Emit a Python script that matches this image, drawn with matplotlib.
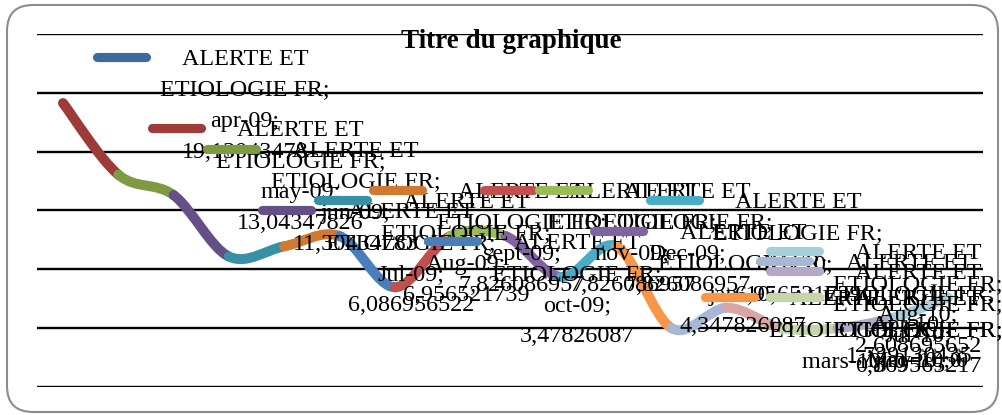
import matplotlib.pyplot as plt
from matplotlib.path import Path
from matplotlib.patches import PathPatch, FancyBboxPatch
from matplotlib.lines import Line2D
from matplotlib.transforms import IdentityTransform

# data
series_name = ['ALERTE ET', 'ETIOLOGIE FR;']
months = ['apr-09', 'may-09', 'jun-09', 'Jul-09', 'Aug-09', 'sept-09', 'oct-09', 'nov-09',
          'Dec-09', 'jan-10', 'feb-10', 'mars-10', 'Apr-10', 'May-10', 'jun-10', 'Jul-10', 'Aug-10']
values = [19.13043478, 13.04347826, 11.30434783, 6.086956522, 6.956521739, 7.826086957,
          3.47826087, 7.826086957, 7.826086957, 4.347826087, 6.956521739, 0,
          1.739130435, 0, 0, 0.869565217, 2.608695652]

# Excel "vary colors by point" palette (dark, base, light)
colors = ['#3D6A9C', '#9E3B38', '#7E9B44', '#654F86', '#3790A5', '#D07A31',
          '#4A7EBB', '#C0504D', '#9BBB59', '#8064A2', '#4BACC6', '#F79646',
          '#A6B8D6', '#D8A6A5', '#C4D6A7', '#B4A8C8', '#A7CFDB']

W, H = 1003, 415
fig = plt.figure(figsize=(W / 100, H / 100), dpi=100)
fig.patch.set_facecolor('white')
ident = IdentityTransform()

# chart border
fig.add_artist(FancyBboxPatch((7, 3), 991, 407, boxstyle='round,pad=0,rounding_size=26',
                              transform=ident, facecolor='none', edgecolor='#8c8c8c', lw=1.5))

ax = fig.add_axes([37 / W, 1 - 387 / H, 946 / W, 353 / H])
ax.set_xlim(-0.47, 16.63)
ax.set_ylim(-5, 25)
ax.set_yticks(range(-5, 26, 5))
ax.set_xticks([])
ax.tick_params(left=False, labelleft=False)
for s in ax.spines.values():
    s.set_visible(False)
ax.set_facecolor('none')
ax.grid(axis='y', color='black', lw=1.7)
ax.set_axisbelow(True)

# smoothed line, one colour per segment
n = len(values)
xs = list(range(n))


def pt(i):
    i = min(max(i, 0), n - 1)
    return (xs[i], values[i])


for i in range(n - 1):
    p0, p1, p2, p3 = pt(i - 1), pt(i), pt(i + 1), pt(i + 2)
    c1 = (p1[0] + (p2[0] - p0[0]) / 6, p1[1] + (p2[1] - p0[1]) / 6)
    c2 = (p2[0] - (p3[0] - p1[0]) / 6, p2[1] - (p3[1] - p1[1]) / 6)
    path = Path([p1, c1, c2, p2], [Path.MOVETO, Path.CURVE4, Path.CURVE4, Path.CURVE4])
    ax.add_patch(PathPatch(path, fill=False, edgecolor=colors[i + 1], lw=7.2,
                           capstyle='round', joinstyle='round', zorder=3))

# data labels (position "right", with legend key), wrapped like Excel does
font = dict(family='Liberation Serif', size=17.4)
for i, (m, v) in enumerate(zip(months, values)):
    val = f'{v:.10g}'.replace('.', ',')
    tail = m + '; ' + val
    if len(tail) <= len(series_name[1]):
        lines = series_name + [tail]
    else:
        lines = series_name + [m + ';', val]
    px, py = ax.transData.transform((xs[i], v))
    key_left = min(px + 29, 765)
    first = py + 31 * (len(lines) - 1) / 2
    z = 10 + i
    fig.add_artist(Line2D([key_left + 4.5, key_left + 53.5], [first, first], transform=ident,
                          color=colors[i], lw=6.6, solid_capstyle='round', zorder=z))
    for k, s in enumerate(lines):
        fig.text(key_left + 153, first - 31 * k - 8, s, transform=ident, ha='center',
                 va='baseline', zorder=z, **font)

fig.text(511 / W, 1 - 42 / H, 'Titre du graphique', ha='center', va='center',
         family='Liberation Serif', fontweight='bold', size=19.5)

fig.savefig('out.png', dpi=100)
